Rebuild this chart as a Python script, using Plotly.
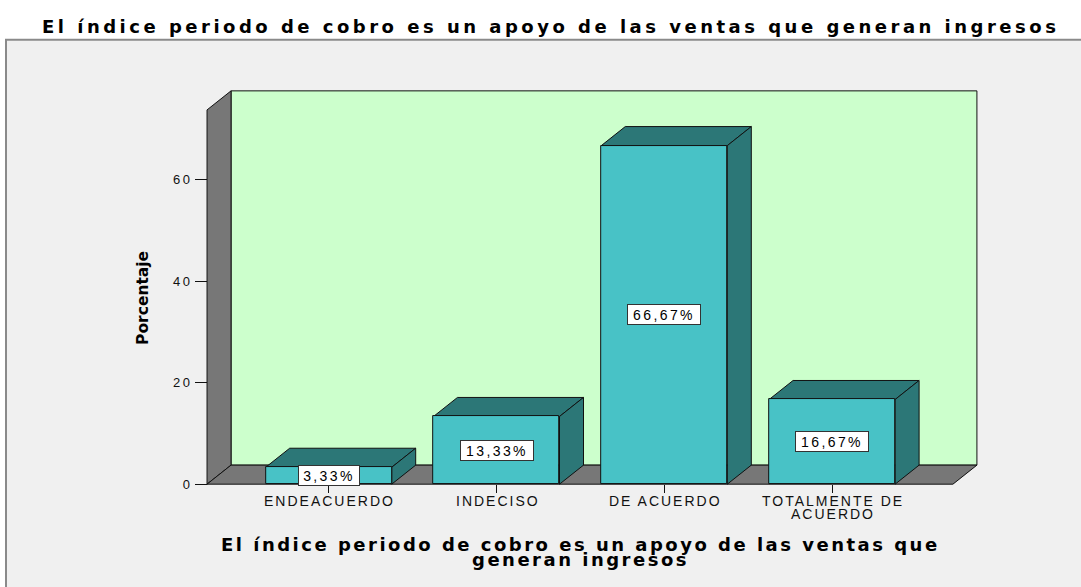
import plotly.graph_objects as go

# ---------------- data ----------------
categories = ["ENDEACUERDO", "INDECISO", "DE ACUERDO", "TOTALMENTE DE ACUERDO"]
cat_label_lines = [["ENDEACUERDO"], ["INDECISO"], ["DE ACUERDO"], ["TOTALMENTE DE", "ACUERDO"]]
percent = [3.33, 13.33, 66.67, 16.67]
percent_labels = ["3,33%", "13,33%", "66,67%", "16,67%"]
y_ticks = [0, 20, 40, 60]
title_text = "El índice periodo de cobro es un apoyo de las ventas que generan ingresos"
xtitle_lines = ["El índice periodo de cobro es un apoyo de las ventas que", "generan ingresos"]
ytitle_text = "Porcentaje"

# ---------------- layout geometry ----------------
W, H = 1081, 587
X0PX, XSCALE = 328.7, 167.8      # pixel of category 0, px per category
Y0PX, YSCALE = 487.5, 5.113      # pixel of value 0, px per unit
XR = [-0.76, 3.90]
YR = [-0.6, 78.4]
x_dom = [(X0PX + XR[0] * XSCALE) / W, (X0PX + XR[1] * XSCALE) / W]
y_dom = [(H - (Y0PX - YR[0] * YSCALE)) / H, (H - (Y0PX - YR[1] * YSCALE)) / H]

BAR_W = 0.751
DX, DY = 0.143, 3.75             # depth offset (x units, y units)
XL, XRIGHT = -0.725, 3.72        # front plane extent
YTOP = 73.7                      # front top of the side wall

FRONT = "#48C2C6"
DARK = "#2C7777"
WALL = "#CCFFCC"
GREY = "#777777"
EDGE = "#111111"
SANS = "Liberation Sans, Arial, sans-serif"

fig = go.Figure()

fig.add_trace(go.Bar(
    x=list(range(len(categories))), y=percent, width=BAR_W,
    marker=dict(color=FRONT, line=dict(color=EDGE, width=1)),
    hoverinfo="skip", showlegend=False,
))

shapes = []
# outer panel
shapes.append(dict(type="rect", xref="paper", yref="paper",
                   x0=6 / W, x1=1.02, y0=-0.02, y1=(H - 40) / H,
                   fillcolor="#F0F0F0", line=dict(color="#8a8a8a", width=2), layer="below"))


def poly(pts, fill):
    d = "M " + " L ".join(f"{x},{y}" for x, y in pts) + " Z"
    return dict(type="path", xref="x", yref="y", path=d, fillcolor=fill,
                line=dict(color=EDGE, width=1), layer="below")


# back wall
shapes.append(poly([(XL + DX, DY), (XRIGHT + DX, DY), (XRIGHT + DX, YTOP + DY), (XL + DX, YTOP + DY)], WALL))
# side wall
shapes.append(poly([(XL, 0), (XL + DX, DY), (XL + DX, YTOP + DY), (XL, YTOP)], GREY))
# floor
shapes.append(poly([(XL, 0), (XRIGHT, 0), (XRIGHT + DX, DY), (XL + DX, DY)], GREY))

# bar tops and sides
for i, v in enumerate(percent):
    x0, x1 = i - BAR_W / 2, i + BAR_W / 2
    shapes.append(poly([(x0, v), (x0 + DX, v + DY), (x1 + DX, v + DY), (x1, v)], DARK))
    shapes.append(poly([(x1, 0), (x1 + DX, DY), (x1 + DX, v + DY), (x1, v)], DARK))

annotations = []


def sp(text, ls):
    return f"<span style='letter-spacing:{ls}px'>{text}</span>"


# bar value labels
for i, (v, lab) in enumerate(zip(percent, percent_labels)):
    annotations.append(dict(
        x=i, y=v / 2, xref="x", yref="y", text=sp(lab, 2.4), showarrow=False,
        font=dict(family=SANS, size=14, color="#000"),
        bgcolor="white", bordercolor="#333", borderwidth=1, borderpad=2,
        width=12 * len(lab) - 4, height=15, xanchor="center", yanchor="middle",
    ))

# category labels
for i, lines in enumerate(cat_label_lines):
    for j, line in enumerate(lines):
        annotations.append(dict(
            x=i, y=(H - (504.5 + 13 * j)) / H, xref="x", yref="paper",
            text=sp(line, 2), showarrow=False, xshift=1,
            font=dict(family=SANS, size=14, color="#111"),
            xanchor="center", yanchor="middle",
        ))

# title
annotations.append(dict(
    x=550 / W, y=(H - 27) / H, xref="paper", yref="paper", showarrow=False,
    text=sp(title_text, 3.5), xanchor="center", yanchor="middle",
    font=dict(family="DejaVu Sans", size=18, color="#000", weight="bold"),
))
# x axis title (two lines)
for j, line in enumerate(xtitle_lines):
    annotations.append(dict(
        x=580 / W, y=(H - (548 + 15.5 * j)) / H, xref="paper", yref="paper", showarrow=False,
        text=sp(line, 2.5), xanchor="center", yanchor="middle",
        font=dict(family="DejaVu Sans", size=18, color="#000", weight="bold"),
    ))
# y axis title
annotations.append(dict(
    x=143 / W, y=(H - 300) / H, xref="paper", yref="paper", showarrow=False,
    text=ytitle_text, textangle=-90, xanchor="center", yanchor="middle",
    font=dict(family="DejaVu Sans", size=15.5, color="#000", weight="bold"),
))

fig.update_layout(
    width=W, height=H, margin=dict(l=0, r=0, t=0, b=0),
    paper_bgcolor="white", plot_bgcolor="rgba(0,0,0,0)",
    shapes=shapes, annotations=annotations, bargap=0,
    xaxis=dict(domain=x_dom, range=XR, anchor="free", position=(H - Y0PX) / H,
               tickvals=list(range(len(categories))), ticks="outside", ticklen=8,
               tickcolor="#111", showticklabels=False, showgrid=False, zeroline=False,
               showline=False, fixedrange=True),
    yaxis=dict(domain=y_dom, range=YR, anchor="free", position=(X0PX + XL * XSCALE) / W,
               tickvals=y_ticks, ticktext=[sp(str(t), 2.5) for t in y_ticks],
               ticks="outside", ticklen=12, tickcolor="#111",
               tickfont=dict(family=SANS, size=13, color="#111"),
               showgrid=False, zeroline=False, showline=False, fixedrange=True),
)

fig.write_html("out.html", config={"displayModeBar": False},
               post_script="document.body.style.margin='0';")
